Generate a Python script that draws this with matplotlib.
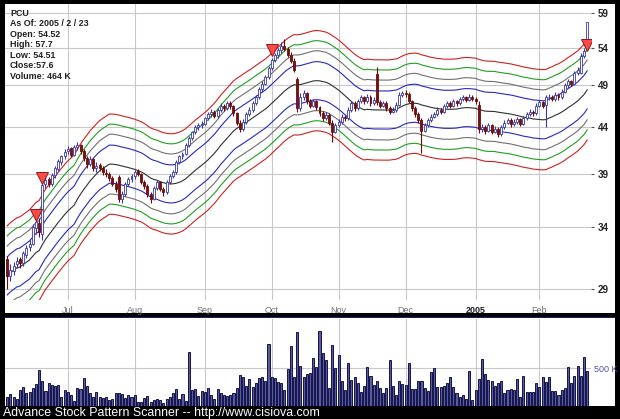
import numpy as np
import pandas as pd
import matplotlib
matplotlib.use("Agg")
import matplotlib.pyplot as plt
from matplotlib.patches import Rectangle

plt.rcParams["font.family"] = ["Liberation Sans", "DejaVu Sans"]

# ---- data ----
holidays = ["2004-06-11", "2004-07-05", "2004-09-06", "2004-11-25",
            "2004-12-24", "2005-01-17", "2005-02-21"]
month_labels = ["Jul", "Aug", "Sep", "Oct", "Nov", "Dec", "2005", "Feb"]
month_starts = ["2004-07-01", "2004-08-01", "2004-09-01", "2004-10-01",
                "2004-11-01", "2004-12-01", "2005-01-01", "2005-02-01"]

opens = [31.3, 30.0, 30.4, 30.9, 31.3, 31.0, 31.7, 32.3, 32.6, 33.9,
         34.4, 33.4, 38.0, 38.5, 38.0, 38.9, 39.5, 40.2, 40.8, 41.4,
         41.7, 41.0, 41.8, 42.0, 41.4, 40.6, 40.0, 40.5, 39.6, 39.9,
         39.6, 39.1, 39.0, 38.6, 38.0, 38.7, 36.6, 37.0, 38.0, 38.5,
         38.8, 39.3, 39.0, 38.2, 37.8, 37.0, 36.6, 37.6, 38.2, 37.5,
         37.2, 38.2, 38.8, 39.2, 40.2, 40.8, 41.1, 42.0, 42.8, 43.4,
         44.0, 44.2, 44.4, 45.0, 45.5, 45.8, 45.3, 46.0, 46.5, 46.2,
         46.8, 46.4, 45.6, 44.5, 43.8, 44.6, 45.5, 46.0, 46.8, 47.5,
         48.5, 49.2, 50.0, 51.2, 52.3, 53.0, 53.6, 54.2, 53.8, 53.0,
         52.2, 49.8, 46.2, 47.5, 48.0, 47.0, 46.5, 47.0, 46.3, 45.6,
         45.0, 45.4, 44.5, 43.5, 44.2, 44.6, 45.2, 45.0, 46.0, 46.8,
         46.2, 47.0, 47.5, 47.0, 47.6, 46.8, 50.5, 46.9, 46.5, 46.8,
         46.2, 45.8, 46.0, 46.6, 47.8, 48.0, 47.9, 47.0, 46.2, 45.5,
         44.8, 43.6, 44.2, 44.8, 45.2, 45.5, 46.0, 45.8, 46.4, 46.8,
         46.5, 47.0, 46.8, 47.3, 47.5, 47.2, 47.6, 47.3, 46.6, 43.8,
         44.0, 43.6, 44.2, 43.5, 43.8, 43.2, 44.0, 44.5, 44.8, 44.3,
         44.6, 44.9, 44.4, 45.0, 45.5, 45.8, 45.6, 46.5, 46.9, 46.6,
         47.5, 47.6, 47.3, 47.8, 47.5, 48.2, 49.0, 49.5, 49.2, 50.6,
         50.6, 52.8, 54.52]
highs = [31.6, 30.9, 31.1, 31.5, 31.5, 32.0, 32.5, 32.9, 34.3, 34.8,
         34.8, 38.4, 38.8, 38.7, 39.1, 39.8, 40.5, 41.0, 41.6, 41.9,
         41.8, 42.0, 42.4, 42.1, 41.6, 40.8, 40.8, 40.6, 40.2, 40.1,
         39.8, 39.5, 39.2, 38.8, 38.3, 38.9, 37.3, 38.2, 38.7, 39.0,
         39.4, 39.5, 39.1, 38.4, 38.0, 37.2, 37.8, 38.4, 38.3, 37.7,
         38.4, 39.0, 39.4, 40.4, 41.0, 41.3, 42.2, 43.0, 43.6, 44.2,
         44.5, 44.7, 45.2, 45.8, 46.1, 46.0, 46.2, 46.8, 46.7, 47.1,
         47.0, 46.6, 45.8, 44.8, 44.9, 45.8, 46.3, 47.1, 47.8, 48.8,
         49.5, 50.3, 51.5, 52.6, 53.3, 53.9, 54.8, 55.2, 54.1, 53.4,
         52.5, 50.0, 48.0, 48.4, 48.2, 47.3, 47.3, 47.2, 46.5, 45.9,
         45.7, 45.6, 44.8, 44.5, 44.9, 45.5, 45.4, 46.3, 47.1, 47.0,
         47.3, 47.8, 47.7, 47.9, 47.8, 47.5, 51.4, 47.2, 47.1, 47.0,
         46.4, 46.3, 46.9, 48.1, 48.3, 48.4, 48.1, 47.2, 46.4, 45.7,
         45.0, 44.5, 45.1, 45.5, 45.8, 46.3, 46.2, 46.7, 47.1, 47.0,
         47.3, 47.2, 47.6, 47.8, 47.7, 47.9, 47.8, 47.6, 47.0, 44.4,
         44.2, 44.5, 44.3, 44.1, 44.0, 44.2, 44.8, 45.1, 45.0, 44.9,
         45.2, 45.1, 45.3, 45.8, 46.1, 46.0, 46.8, 47.2, 47.1, 47.8,
         47.9, 47.8, 48.1, 48.0, 48.5, 49.3, 49.8, 49.7, 50.9, 51.4,
         53.2, 54.0, 57.7]
lows = [29.0, 29.6, 30.1, 30.6, 30.6, 30.8, 31.4, 32.0, 32.5, 33.4,
        33.2, 32.9, 37.6, 37.7, 37.8, 38.6, 39.3, 39.9, 40.5, 41.1,
        40.7, 40.8, 41.5, 41.1, 40.3, 39.6, 39.8, 39.3, 39.2, 39.3,
        38.9, 38.7, 38.3, 37.8, 37.2, 36.3, 36.2, 36.9, 37.8, 38.2,
        38.5, 38.8, 38.0, 37.5, 36.8, 36.2, 36.5, 37.4, 37.3, 36.9,
        37.0, 38.0, 38.6, 39.0, 40.0, 40.5, 41.0, 41.8, 42.6, 43.2,
        43.7, 43.9, 44.2, 44.8, 45.2, 45.0, 45.1, 45.8, 45.9, 46.0,
        46.1, 45.3, 44.2, 43.5, 43.6, 44.4, 45.3, 45.8, 46.6, 47.3,
        48.2, 49.0, 49.8, 51.0, 52.0, 52.6, 53.3, 53.5, 52.7, 51.9,
        50.7, 45.8, 45.9, 47.2, 46.7, 46.2, 46.3, 46.0, 45.3, 44.7,
        44.8, 44.2, 42.3, 43.3, 44.0, 44.4, 44.7, 44.8, 45.8, 45.9,
        46.0, 46.8, 46.7, 46.8, 46.5, 46.6, 46.6, 46.2, 46.3, 45.9,
        45.5, 45.6, 45.8, 46.4, 47.5, 47.6, 46.8, 45.9, 45.2, 44.5,
        41.2, 43.4, 44.0, 44.6, 45.0, 45.3, 45.5, 45.6, 46.2, 46.2,
        46.3, 46.5, 46.6, 47.0, 46.9, 47.0, 47.0, 46.7, 43.3, 43.4,
        43.2, 43.4, 43.2, 43.3, 42.9, 43.0, 43.8, 44.3, 44.0, 44.1,
        44.4, 44.1, 44.2, 44.8, 45.3, 45.3, 45.4, 46.3, 46.2, 44.0,
        47.2, 47.0, 47.1, 47.2, 47.3, 48.0, 48.7, 48.9, 49.0, 50.3,
        50.4, 52.5, 54.51]
closes = [30.0, 30.5, 30.8, 31.2, 31.0, 31.8, 32.2, 32.6, 34.0, 34.5,
          33.6, 37.9, 38.4, 38.0, 38.9, 39.6, 40.3, 40.8, 41.3, 41.6,
          41.0, 41.8, 42.0, 41.4, 40.6, 40.0, 40.5, 39.6, 39.8, 39.6,
          39.2, 39.0, 38.6, 38.0, 37.5, 36.6, 37.0, 38.0, 38.5, 38.8,
          39.2, 39.0, 38.2, 37.8, 37.0, 36.6, 37.6, 38.2, 37.5, 37.2,
          38.2, 38.8, 39.2, 40.2, 40.8, 41.1, 42.0, 42.8, 43.4, 44.0,
          44.2, 44.4, 45.0, 45.5, 45.8, 45.3, 46.0, 46.5, 46.2, 46.8,
          46.4, 45.6, 44.5, 43.8, 44.6, 45.5, 46.0, 46.8, 47.5, 48.5,
          49.2, 50.0, 51.2, 52.3, 53.0, 53.6, 54.2, 53.8, 53.0, 52.2,
          51.0, 46.2, 47.5, 48.0, 47.0, 46.5, 47.0, 46.3, 45.6, 45.0,
          45.4, 44.5, 43.5, 44.2, 44.6, 45.2, 45.0, 46.0, 46.8, 46.2,
          47.0, 47.5, 47.0, 47.6, 46.8, 47.2, 46.9, 46.5, 46.8, 46.2,
          45.8, 46.0, 46.6, 47.8, 48.0, 47.9, 47.0, 46.2, 45.5, 44.8,
          43.6, 44.2, 44.8, 45.2, 45.5, 46.0, 45.8, 46.4, 46.8, 46.5,
          47.0, 46.8, 47.3, 47.5, 47.2, 47.6, 47.3, 47.0, 43.8, 44.0,
          43.6, 44.2, 43.5, 43.8, 43.2, 44.0, 44.5, 44.8, 44.3, 44.6,
          44.9, 44.4, 45.0, 45.5, 45.8, 45.6, 46.5, 46.9, 46.5, 47.5,
          47.6, 47.3, 47.8, 47.5, 48.2, 49.0, 49.5, 49.2, 50.6, 51.0,
          52.8, 53.5, 57.6]
volumes_k = [124, 155, 124, 88, 212, 248, 168, 186, 234, 292,
             477, 332, 203, 309, 278, 265, 283, 124, 212, 186,
             140, 66, 234, 221, 376, 265, 168, 124, 186, 115,
             110, 124, 80, 93, 168, 168, 159, 102, 146, 124,
             146, 57, 57, 102, 133, 57, 80, 97, 75, 35,
             88, 115, 168, 221, 88, 155, 71, 712, 212, 221,
             133, 199, 190, 243, 146, 88, 221, 177, 146, 133,
             146, 168, 234, 407, 380, 265, 354, 248, 301, 371,
             380, 336, 818, 380, 376, 318, 309, 212, 495, 796,
             380, 977, 530, 380, 424, 433, 628, 513,
             986, 707, 610, 234, 809, 500, 676, 332, 212, 566,
             345, 380, 309, 181, 265, 513, 398, 278, 332, 234,
             168, 234, 610, 265, 146, 332, 287, 278, 575, 221,
             221, 336, 336, 234, 199, 455, 500, 248, 248, 270,
             301, 380, 248, 177, 115, 146, 88, 460, 80, 212,
             354, 619, 424, 345, 332, 265, 309, 327, 177, 212,
             221, 212, 358, 124, 398, 190, 190, 181, 301, 248,
             380, 323, 380, 199, 199, 146, 212, 234, 522, 301,
             398, 530, 398, 645, 464]

signal_idx = [9, 11, 83, 182]
signal_price = [35.1, 38.6, 53.6, 54.3]

info_lines = ["PCU", "As Of: 2005 / 2 / 23", "Open: 54.52", "High: 57.7",
              "Low: 54.51", "Close:57.6", "Volume: 464 K"]

# envelope: 22-day moving average of close, bands as log offsets
ma_len = 22
band_offsets = [0.049, 0.077, 0.103, 0.129]
band_colors = ["#2828c0", "#707070", "#1ea01e", "#d02020"]

dates = pd.bdate_range("2004-06-03", "2005-02-23")
dates = dates[~dates.isin(pd.to_datetime(holidays))]
n = len(closes)
dates = dates[-n:]
x = np.arange(n)
o = np.array(opens)
h = np.array(highs)
l = np.array(lows)
c = np.array(closes)
v = np.array(volumes_k)
month_idx = [int(np.argmax(dates >= pd.Timestamp(d))) for d in month_starts]

center = pd.Series(c).rolling(ma_len, min_periods=1).mean().values

W, H = 620, 419
fig = plt.figure(figsize=(W / 100, H / 100), dpi=100, facecolor="black")


def fbox(x0, y0, x1, y1):
    # pixel box (top-left origin) -> figure fraction rect
    return [x0 / W, 1 - y1 / H, (x1 - x0) / W, (y1 - y0) / H]


def panel(x0, y0, x1, y1, color):
    r = fbox(x0, y0, x1, y1)
    fig.patches.append(Rectangle((r[0], r[1]), r[2], r[3], transform=fig.transFigure,
                                 facecolor=color, edgecolor="none", zorder=-5))


# white panels behind the axes
panel(5, 4, 615, 313, "white")
panel(5, 318, 615, 406, "white")
panel(5, 316.5, 615, 318, "#1c1c70")

ax = fig.add_axes(fbox(5, 4, 591, 300), zorder=2)
axv = fig.add_axes(fbox(5, 319, 591, 406), zorder=2)
for a in (ax, axv):
    a.set_facecolor("none")
    for s in a.spines.values():
        s.set_visible(False)
    a.set_xlim(-0.7, n + 0.2)
    a.set_xticks(month_idx)
    a.grid(True, color="#c8c8c8", lw=0.8)
    a.set_axisbelow(True)

# ---- price panel ----
ax.set_yscale("log")
ax.set_ylim(28.2, 60.4)
yt = [29, 34, 39, 44, 49, 54, 59]
ax.set_yticks(yt)
ax.set_yticks([], minor=True)
ax.set_yticklabels([str(t) for t in yt], fontsize=7, fontweight="bold", color="#202020")
ax.yaxis.tick_right()
ax.tick_params(axis="y", length=2, color="#505050", pad=3)
ax.tick_params(axis="x", length=0, pad=4)
ax.set_xticklabels(month_labels, fontsize=6.5, color="#707070")
for lab in ax.get_xticklabels():
    if lab.get_text() == "2005":
        lab.set_color("#202020")
        lab.set_fontweight("bold")

ax.plot(x, center, color="#303030", lw=0.8, zorder=2)
for off, col in zip(band_offsets, band_colors):
    ax.plot(x, center * np.exp(off), color=col, lw=0.8, zorder=2)
    ax.plot(x, center * np.exp(-off), color=col, lw=0.8, zorder=2)

up = c >= o
ax.vlines(x[up], l[up], h[up], color="#3838a8", lw=0.8, zorder=3)
ax.vlines(x[~up], l[~up], h[~up], color="#6a0c0c", lw=0.8, zorder=3)
ax.bar(x[up], c[up] - o[up], bottom=o[up], width=0.62, facecolor="white",
       edgecolor="#3838a8", lw=0.6, zorder=4)
ax.bar(x[~up], o[~up] - c[~up], bottom=c[~up], width=0.62, facecolor="#7a1010",
       edgecolor="#6a0c0c", lw=0.6, zorder=4)
ax.plot(signal_idx, signal_price, "v", ms=8, mfc="#ff4848", mec="#8a1a1a",
        mew=0.7, zorder=5)

# ---- volume panel ----
axv.bar(x, v, width=0.65, facecolor="#5a5a9c", edgecolor="#14144e", lw=0.7, zorder=3)
axv.set_ylim(0, 1150)
axv.set_yticks([500])
axv.set_yticklabels(["500 K"], fontsize=6.5, color="#5050a0")
axv.yaxis.tick_right()
axv.tick_params(axis="y", length=0, pad=2)
axv.tick_params(axis="x", length=0, labelbottom=False)

# ---- texts ----
for k, line in enumerate(info_lines):
    fig.text(10 / W, 1 - (13 + 10.6 * k) / H, line, fontsize=6.4, fontweight="bold",
             color="#202020", va="center", ha="left")
fig.text(3 / W, 1 - 413 / H, "Advance Stock Pattern Scanner -- http://www.cisiova.com",
         fontsize=8.9, color="white", va="center", ha="left")

fig.savefig("out.png", dpi=100, facecolor="black")
